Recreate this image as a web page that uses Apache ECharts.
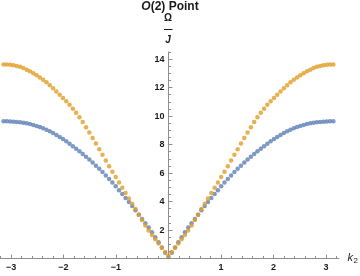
<!DOCTYPE html>
<html><head><meta charset="utf-8">
<script src="https://cdn.jsdelivr.net/npm/echarts@6/dist/echarts.min.js"></script>
<style>html,body{margin:0;padding:0;background:#fff}#c{width:360px;height:276px}</style>
</head><body><div id="c"></div>
<script>
// k2 sample points
const kValues = [-3.142,-3.079,-3.016,-2.953,-2.890,-2.827,-2.765,-2.702,-2.639,-2.576,-2.513,-2.450,-2.388,-2.325,-2.262,-2.199,-2.136,-2.073,-2.011,-1.948,-1.885,-1.822,-1.759,-1.696,-1.634,-1.571,-1.508,-1.445,-1.382,-1.319,-1.257,-1.194,-1.131,-1.068,-1.005,-0.942,-0.880,-0.817,-0.754,-0.691,-0.628,-0.565,-0.503,-0.440,-0.377,-0.314,-0.251,-0.188,-0.126,-0.063,0,
0.063,0.126,0.188,0.251,0.314,0.377,0.440,0.503,0.565,0.628,0.691,0.754,0.817,0.880,0.942,1.005,1.068,1.131,1.194,1.257,1.319,1.382,1.445,1.508,1.571,1.634,1.696,1.759,1.822,1.885,1.948,2.011,2.073,2.136,2.199,2.262,2.325,2.388,2.450,2.513,2.576,2.639,2.702,2.765,2.827,2.890,2.953,3.016,3.079,3.142];
// lower band (blue)
const bandLower = [9.63,9.63,9.62,9.61,9.59,9.57,9.53,9.49,9.44,9.38,9.31,9.23,9.14,9.04,8.93,8.81,8.68,8.54,8.39,8.23,8.06,7.89,7.71,7.53,7.34,7.15,6.95,6.74,6.52,6.30,6.07,5.83,5.58,5.33,5.07,4.80,4.53,4.25,3.97,3.68,3.39,3.08,2.78,2.48,2.17,1.85,1.50,1.14,0.77,0.40,0.10,
0.40,0.77,1.14,1.50,1.85,2.17,2.48,2.78,3.08,3.39,3.68,3.97,4.25,4.53,4.80,5.07,5.33,5.58,5.83,6.07,6.30,6.52,6.74,6.95,7.15,7.34,7.53,7.71,7.89,8.06,8.23,8.39,8.54,8.68,8.81,8.93,9.04,9.14,9.23,9.31,9.38,9.44,9.49,9.53,9.57,9.59,9.61,9.62,9.63,9.63];
// upper band (orange)
const bandUpper = [13.63,13.62,13.60,13.57,13.52,13.46,13.37,13.26,13.14,13.00,12.86,12.71,12.55,12.38,12.17,11.95,11.73,11.50,11.27,11.04,10.79,10.52,10.23,9.92,9.58,9.22,8.85,8.47,8.08,7.68,7.28,6.88,6.48,6.10,5.72,5.34,4.97,4.60,4.22,3.85,3.47,3.08,2.70,2.32,1.97,1.65,1.35,1.05,0.75,0.45,0.20,
0.45,0.75,1.05,1.35,1.65,1.97,2.32,2.70,3.08,3.47,3.85,4.22,4.60,4.97,5.34,5.72,6.10,6.48,6.88,7.28,7.68,8.08,8.47,8.85,9.22,9.58,9.92,10.23,10.52,10.79,11.04,11.27,11.50,11.73,11.95,12.17,12.38,12.55,12.71,12.86,13.00,13.14,13.26,13.37,13.46,13.52,13.57,13.60,13.62,13.63];
// ticks
const xTicks = [-3,-2,-1,1,2,3];
const yTicks = [2,4,6,8,10,12,14];
const xMinorTicks = [-3.2,-2.8,-2.6,-2.4,-2.2,-1.8,-1.6,-1.4,-1.2,-0.8,-0.6,-0.4,-0.2,0.2,0.4,0.6,0.8,1.2,1.4,1.6,1.8,2.2,2.4,2.6,2.8,3.2];
const yMinorTicks = [0.5,1,1.5,2.5,3,3.5,4.5,5,5.5,6.5,7,7.5,8.5,9,9.5,10.5,11,11.5,12.5,13,13.5,14.5];

const AXIS = '#8f8f8f';
const LABEL = '#1a1a1a';
const FONT = '"Liberation Sans", Arial, sans-serif';
const fmt = v => String(v).replace('-', '\u2212');
const Y_AXIS_SHIFT = -168.5; // put the vertical axis at k2 = 0

const chart = echarts.init(document.getElementById('c'), null, {renderer: 'canvas'});
chart.setOption({
  animation: false,
  backgroundColor: '#ffffff',
  grid: {left: 0, top: 52, width: 339, height: 206.5, containLabel: false, outerBoundsMode: 'none'},
  xAxis: [{
    type: 'value', min: -3.21, max: 3.25, position: 'bottom',
    axisLine: {show: true, onZero: false, lineStyle: {color: AXIS, width: 1}},
    axisTick: {show: true, inside: true, length: 4, customValues: xTicks, lineStyle: {color: AXIS}},
    axisLabel: {show: true, customValues: xTicks, formatter: fmt, margin: 5, color: LABEL, fontSize: 9, fontWeight: 'bold', fontFamily: FONT},
    splitLine: {show: false}
  }, {
    type: 'value', min: -3.21, max: 3.25, position: 'bottom',
    axisLine: {show: false, onZero: false},
    axisTick: {show: true, inside: true, length: 2.5, customValues: xMinorTicks, lineStyle: {color: AXIS}},
    axisLabel: {show: false},
    splitLine: {show: false}
  }],
  yAxis: [{
    type: 'value', min: 0, max: 14.5, position: 'left', offset: Y_AXIS_SHIFT,
    axisLine: {show: true, onZero: false, lineStyle: {color: AXIS, width: 1}},
    axisTick: {show: true, inside: true, length: 4, customValues: yTicks, lineStyle: {color: AXIS}},
    axisLabel: {show: true, customValues: yTicks, formatter: fmt, margin: 4, color: LABEL, fontSize: 9, fontWeight: 'bold', fontFamily: FONT},
    splitLine: {show: false}
  }, {
    type: 'value', min: 0, max: 14.5, position: 'left', offset: Y_AXIS_SHIFT,
    axisLine: {show: false, onZero: false},
    axisTick: {show: true, inside: true, length: 2.5, customValues: yMinorTicks, lineStyle: {color: AXIS}},
    axisLabel: {show: false},
    splitLine: {show: false}
  }],
  series: [{
    type: 'scatter', xAxisIndex: 0, yAxisIndex: 0,
    data: kValues.map((k, i) => [k, bandLower[i]]),
    symbol: 'circle', symbolSize: 4.5,
    itemStyle: {color: '#5E81B5'}
  }, {
    type: 'scatter', xAxisIndex: 0, yAxisIndex: 0,
    data: kValues.map((k, i) => [k, bandUpper[i]]),
    symbol: 'circle', symbolSize: 4.5,
    itemStyle: {color: '#E19C24'}
  }],
  graphic: [
    {type: 'text', x: 170, y: 7, style: {text: '{i|O}{n|(2) Point}', align: 'center', verticalAlign: 'middle',
      rich: {i: {fontSize: 12, fontWeight: 'bold', fontStyle: 'italic', fontFamily: FONT, fill: LABEL},
             n: {fontSize: 12, fontWeight: 'bold', fontFamily: FONT, fill: LABEL}}}},
    {type: 'text', x: 168, y: 18.5, style: {text: '\u03A9', align: 'center', verticalAlign: 'middle', fontSize: 10, fontWeight: 'bold', fontFamily: FONT, fill: LABEL}},
    {type: 'line', shape: {x1: 164, y1: 29.5, x2: 172.5, y2: 29.5}, style: {stroke: LABEL, lineWidth: 1}},
    {type: 'text', x: 168, y: 40, style: {text: 'J', align: 'center', verticalAlign: 'middle', fontSize: 10, fontWeight: 'bold', fontStyle: 'italic', fontFamily: FONT, fill: LABEL}},
    {type: 'text', x: 347.5, y: 258, style: {text: 'k', align: 'left', verticalAlign: 'middle', fontSize: 11, fontStyle: 'italic', fontFamily: FONT, fill: LABEL}},
    {type: 'text', x: 353.5, y: 261, style: {text: '2', align: 'left', verticalAlign: 'middle', fontSize: 8, fontFamily: FONT, fill: LABEL}}
  ]
});
</script>
</body></html>
